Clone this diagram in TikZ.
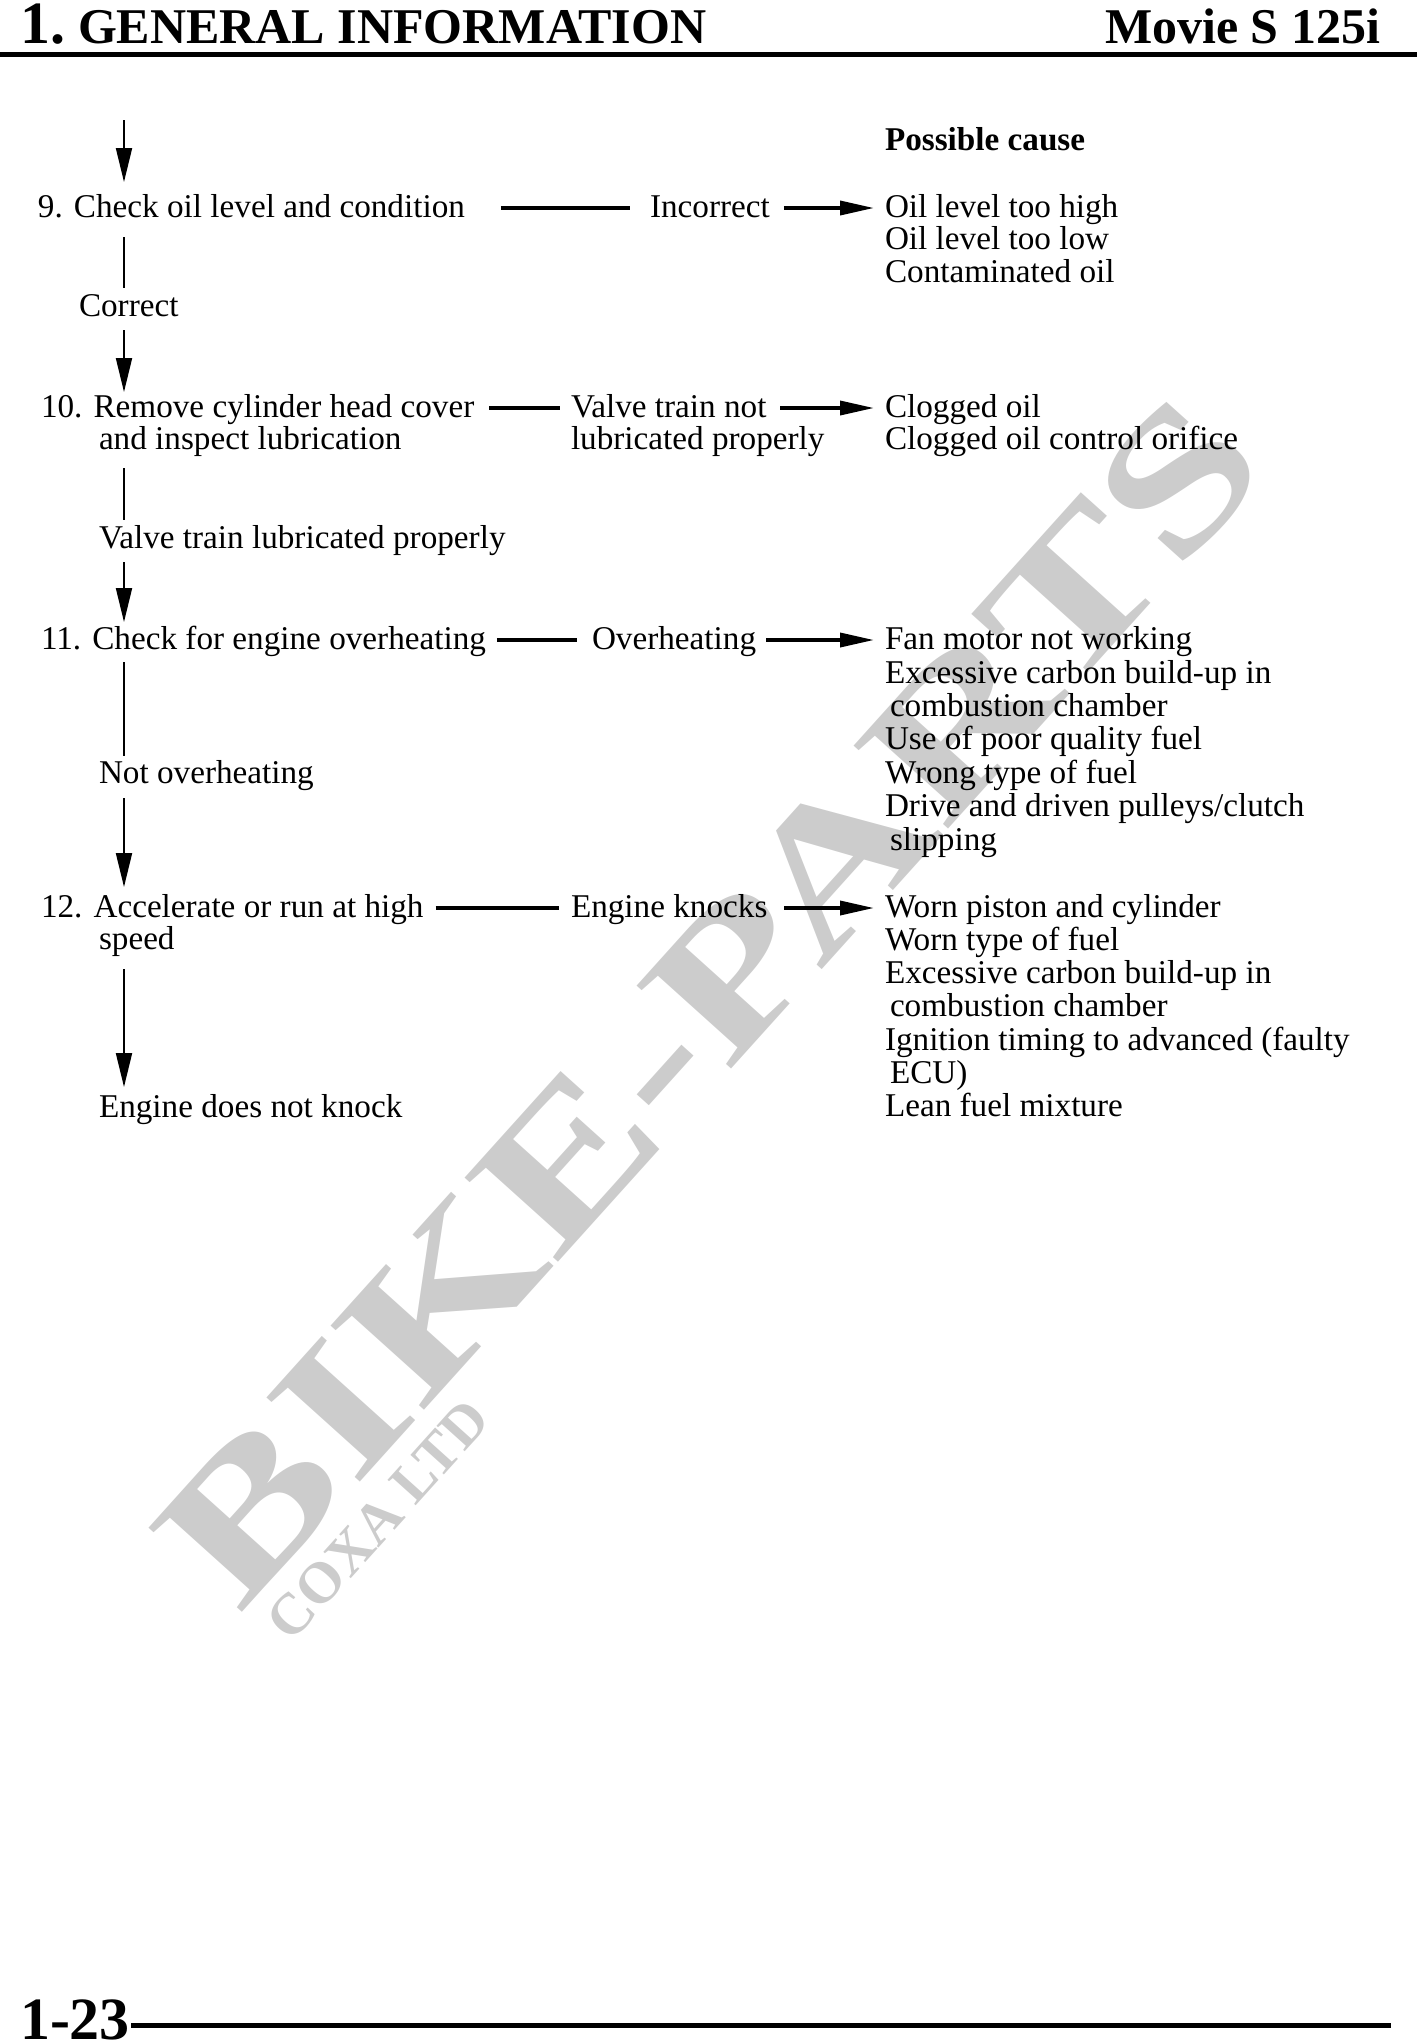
\documentclass[tikz,border=0pt]{standalone}
\usepackage{fontspec}
\setmainfont{Liberation Serif}
\usetikzlibrary{arrows.meta}
\definecolor{wmgray}{RGB}{204,204,204}
\begin{document}
\begin{tikzpicture}[x=0.5pt,y=-0.5pt,
  txt/.style={anchor=base west, inner sep=0pt, outer sep=0pt,
    font=\fontsize{16.6pt}{16.6pt}\selectfont, text height=12pt, text depth=3pt},
  btxt/.style={txt, font=\bfseries\fontsize{16.6pt}{16.6pt}\selectfont},
  head/.style={anchor=base west, inner sep=0pt, outer sep=0pt,
    font=\bfseries\fontsize{25pt}{25pt}\selectfont},
  bignum/.style={anchor=base west, inner sep=0pt, outer sep=0pt,
    font=\bfseries\fontsize{30pt}{30pt}\selectfont},
  wmtext/.style={inner sep=0pt, text=wmgray,
    font=\bfseries\fontsize{96pt}{96pt}\selectfont},
  wmsmall/.style={inner sep=0pt, text=wmgray,
    font=\bfseries\fontsize{29pt}{29pt}\selectfont},
  vline/.style={line width=1pt},
  varrow/.style={line width=1pt, -{Triangle[length=17pt,width=8pt]}},
  hline/.style={line width=1.8pt},
  harrow/.style={line width=1.8pt, -{Triangle[length=17pt,width=7pt]}},
  rule/.style={line width=2.5pt}]
\useasboundingbox (0,0) rectangle (1417,2042);

% watermark
\node[wmtext, rotate=48] (wm1) at (710,1000) {\scalebox{1.34}[1]{BIKE-PARTS}};
\node[wmsmall, rotate=48] (wm2) at (378,1520) {COXA LTD};

% header
\node[bignum] (hnum) at (20,43) {1.};
\node[head] (htitle) at (78,43) {GENERAL INFORMATION};
\node[head, anchor=base east] (hmodel) at (1380,43) {Movie S 125i};
\coordinate (hl) at (0,54.5);
\coordinate (hr) at (1417,54.5);
\draw[rule] (hl) -- (hr);

% footer
\node[bignum] (fnum) at (20,2039) {1-23};
\coordinate (fl) at (131,2025.5);
\coordinate (fr) at (1391,2025.5);
\draw[rule] (fl) -- (fr);

% left column
\node[txt] (s9) at (38,217) {9. Check oil level and condition};
\node[txt] (correct) at (79,316) {Correct};
\node[txt] (s10a) at (41,417) {10. Remove cylinder head cover};
\node[txt] (s10b) at (99,449) {and inspect lubrication};
\node[txt] (vtlp) at (99,548) {Valve train lubricated properly};
\node[txt] (s11) at (41,649) {11. Check for engine overheating};
\node[txt] (notover) at (99,783) {Not overheating};
\node[txt] (s12a) at (41,917) {12. Accelerate or run at high};
\node[txt] (s12b) at (99,949) {speed};
\node[txt] (nok) at (99,1117) {Engine does not knock};

% middle column
\node[txt] (incorrect) at (650,217) {Incorrect};
\node[txt] (vtna) at (571,417) {Valve train not};
\node[txt] (vtnb) at (571,449) {lubricated properly};
\node[txt] (overheat) at (592,649) {Overheating};
\node[txt] (knocks) at (571,917) {Engine knocks};

% right column
\node[btxt] (pc) at (885,150) {Possible cause};
\node[txt] (c9a) at (885,217) {Oil level too high};
\node[txt] (c9b) at (885,249) {Oil level too low};
\node[txt] (c9c) at (885,282) {Contaminated oil};
\node[txt] (c10a) at (885,417) {Clogged oil};
\node[txt] (c10b) at (885,449) {Clogged oil control orifice};
\node[txt] (c11a) at (885,649) {Fan motor not working};
\node[txt] (c11b) at (885,683) {Excessive carbon build-up in};
\node[txt] (c11c) at (890,716) {combustion chamber};
\node[txt] (c11d) at (885,749) {Use of poor quality fuel};
\node[txt] (c11e) at (885,783) {Wrong type of fuel};
\node[txt] (c11f) at (885,816) {Drive and driven pulleys/clutch};
\node[txt] (c11g) at (890,850) {slipping};
\node[txt] (c12a) at (885,917) {Worn piston and cylinder};
\node[txt] (c12b) at (885,950) {Worn type of fuel};
\node[txt] (c12c) at (885,983) {Excessive carbon build-up in};
\node[txt] (c12d) at (890,1016) {combustion chamber};
\node[txt] (c12e) at (885,1050) {Ignition timing to advanced (faulty};
\node[txt] (c12f) at (890,1083) {ECU)};
\node[txt] (c12g) at (885,1116) {Lean fuel mixture};

% vertical flow
\coordinate (vx) at (124,0);
\coordinate (top) at (124,120);
\draw[varrow, shorten >=5.5pt] (top) -- (vx |- s9.north);
\draw[vline, shorten <=7pt, shorten >=2pt] (vx |- s9.south) -- (vx |- correct.north);
\draw[varrow, shorten <=4pt, shorten >=0.5pt] (vx |- correct.south) -- (vx |- s10a.north);
\draw[vline, shorten <=6.5pt, shorten >=2pt] (vx |- s10b.south) -- (vx |- vtlp.north);
\draw[varrow, shorten <=4pt, shorten >=1.5pt] (vx |- vtlp.south) -- (vx |- s11.north);
\draw[vline, shorten <=3.5pt, shorten >=1.5pt] (vx |- s11.south) -- (vx |- notover.north);
\draw[varrow, shorten <=4.5pt, shorten >=3pt] (vx |- notover.south) -- (vx |- s12a.north);
\draw[varrow, shorten <=7pt, shorten >=3pt] (vx |- s12b.south) -- (vx |- nok.north);

% horizontal flow
\draw[hline, shorten <=18pt, shorten >=10pt] (s9.east) -- (incorrect.west);
\draw[harrow, shorten <=7pt, shorten >=5.5pt] (incorrect.east) -- (c9a.west);
\draw[hline, shorten <=7.5pt, shorten >=5.5pt] (s10a.east) -- (vtna.west);
\draw[harrow, shorten <=7pt, shorten >=5.5pt] (vtna.east) -- (c10a.west);
\draw[hline, shorten <=5.5pt, shorten >=7.5pt] (s11.east) -- (overheat.west);
\draw[harrow, shorten <=5pt, shorten >=5.5pt] (overheat.east) -- (c11a.west);
\draw[hline, shorten <=6pt, shorten >=6pt] (s12a.east) -- (knocks.west);
\draw[harrow, shorten <=8.5pt, shorten >=5.5pt] (knocks.east) -- (c12a.west);
\end{tikzpicture}
\end{document}
